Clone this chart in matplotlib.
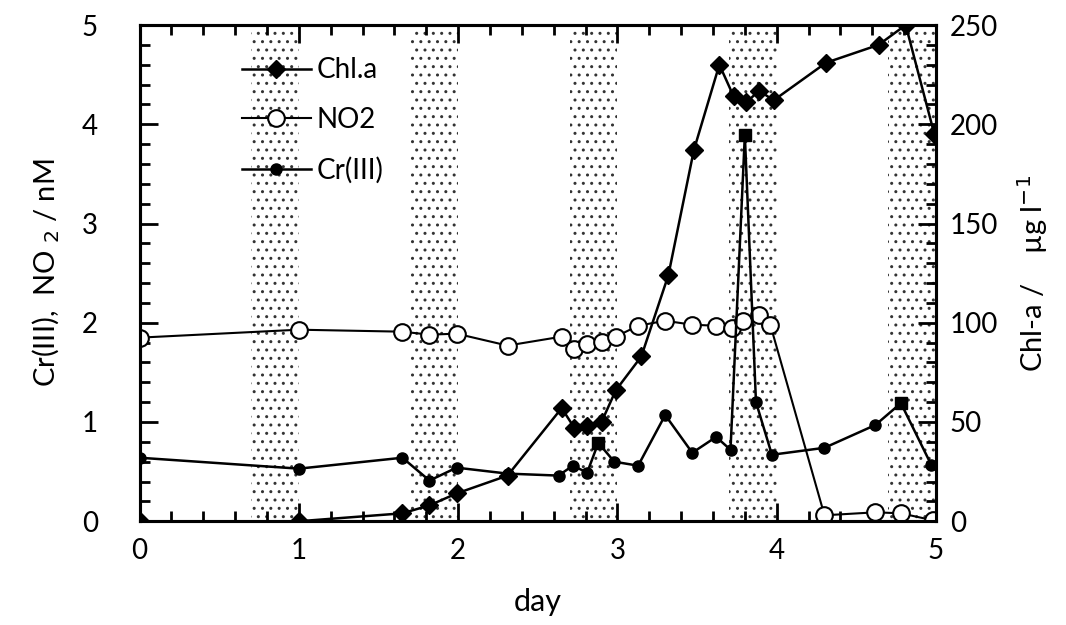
import matplotlib
matplotlib.use('Agg')
import matplotlib.pyplot as plt
import matplotlib.ticker as plticker

plt.rcParams['font.family'] = ['Lato', 'DejaVu Sans']
plt.rcParams['hatch.linewidth'] = 1.0
plt.rcParams['hatch.color'] = '0.2'

# dark periods (shaded)
night_start = [0.7, 1.7, 2.7, 3.7, 4.7]
night_end = [1.0, 2.0, 3.0, 4.0, 5.0]

chl_day = [0, 1, 1.65, 1.82, 1.99, 2.31, 2.65, 2.73, 2.81, 2.90, 2.99, 3.15,
           3.32, 3.48, 3.64, 3.73, 3.81, 3.89, 3.98, 4.31, 4.64, 4.81, 4.99]
chl = [0, 0, 4, 8, 14, 23, 57, 47, 48, 50, 66, 83,
       124, 187, 230, 214, 211, 217, 212, 231, 240, 250, 195]

no2_day = [0, 1, 1.65, 1.82, 1.99, 2.31, 2.65, 2.73, 2.81, 2.90, 2.99, 3.13,
           3.30, 3.47, 3.62, 3.72, 3.79, 3.89, 3.96, 4.30, 4.62, 4.78, 4.98]
no2 = [1.85, 1.93, 1.91, 1.88, 1.89, 1.77, 1.86, 1.74, 1.79, 1.81, 1.86, 1.97,
       2.02, 1.98, 1.97, 1.95, 2.02, 2.08, 1.98, 0.06, 0.09, 0.08, 0.01]

cr_day = [0, 1, 1.65, 1.82, 1.99, 2.31, 2.63, 2.72, 2.81, 2.88, 2.98, 3.13,
          3.30, 3.47, 3.62, 3.71, 3.80, 3.87, 3.97, 4.30, 4.62, 4.78, 4.97]
cr = [0.64, 0.53, 0.64, 0.41, 0.54, 0.48, 0.46, 0.56, 0.49, 0.79, 0.60, 0.56,
      1.07, 0.69, 0.85, 0.72, 3.89, 1.20, 0.67, 0.74, 0.97, 1.19, 0.57]
# a few Cr(III) points are drawn as squares in the original
cr_square = [False] * 9 + [True] + [False] * 6 + [True] + [False] * 4 + [True, False]

fig = plt.figure(figsize=(10.66, 6.25), dpi=100)
ax = fig.add_axes([0.131, 0.166, 0.747, 0.794])
ax2 = ax.twinx()

for s, e in zip(night_start, night_end):
  ax.axvspan(s, e, facecolor='white', edgecolor='0.2', hatch='..', lw=0, zorder=0)

ax.plot(no2_day, no2, color='black', lw=1.5, marker='o', ms=12,
        mfc='white', mec='black', mew=1.5, label='NO2', zorder=3)
ax.plot(cr_day, cr, color='black', lw=1.8, marker='o', ms=8,
        mfc='black', mec='black', label='Cr(III)', zorder=4)
sq_x = [d for d, f in zip(cr_day, cr_square) if f]
sq_y = [v for v, f in zip(cr, cr_square) if f]
ax.plot(sq_x, sq_y, ls='none', marker='s', ms=9, color='black', zorder=5)

ax2.plot(chl_day, chl, color='black', lw=1.8, marker='D', ms=9,
         mfc='black', mec='black', label='Chl.a', zorder=4)

ax.set_xlim(0, 5)
ax.set_ylim(0, 5)
ax2.set_ylim(0, 250)

ax.xaxis.set_major_locator(plticker.MultipleLocator(1))
ax.xaxis.set_minor_locator(plticker.MultipleLocator(0.2))
ax.yaxis.set_major_locator(plticker.MultipleLocator(1))
ax.yaxis.set_minor_locator(plticker.MultipleLocator(0.2))
ax2.yaxis.set_major_locator(plticker.MultipleLocator(50))
ax2.yaxis.set_minor_locator(plticker.MultipleLocator(10))

ax.tick_params(axis='x', which='both', direction='in', top=True, width=2)
ax.tick_params(axis='y', which='both', direction='in', right=False, width=2)
ax.tick_params(which='major', length=13, labelsize=20)
ax.tick_params(axis='x', which='major', pad=12)
ax.tick_params(axis='y', which='major', pad=30)
ax.tick_params(which='minor', length=7)
ax2.tick_params(which='both', direction='in', width=2, labelsize=20, pad=10)
ax2.tick_params(which='major', length=13)
ax2.tick_params(which='minor', length=7)

for a in (ax, ax2):
  for sp in a.spines.values():
    sp.set_linewidth(2.2)

ax.set_xlabel('day', fontsize=22, labelpad=17)
ax.set_ylabel('Cr(III),  NO$_{\\ 2}$ / nM', fontsize=21, labelpad=14)
ax2.set_ylabel('Chl-a /    \u00b5g l$^{-1}$', fontsize=21, labelpad=12)

ax2.set_zorder(ax.get_zorder() + 1)
h1, l1 = ax2.get_legend_handles_labels()
h0, l0 = ax.get_legend_handles_labels()
ax2.legend(h1 + h0, l1 + l0, loc='upper left', bbox_to_anchor=(0.128, 0.935),
           frameon=False, fontsize=20, handlelength=2.5, handletextpad=0.2,
           labelspacing=0.85, borderpad=0, borderaxespad=0)

fig.savefig('out.png', dpi=100)
